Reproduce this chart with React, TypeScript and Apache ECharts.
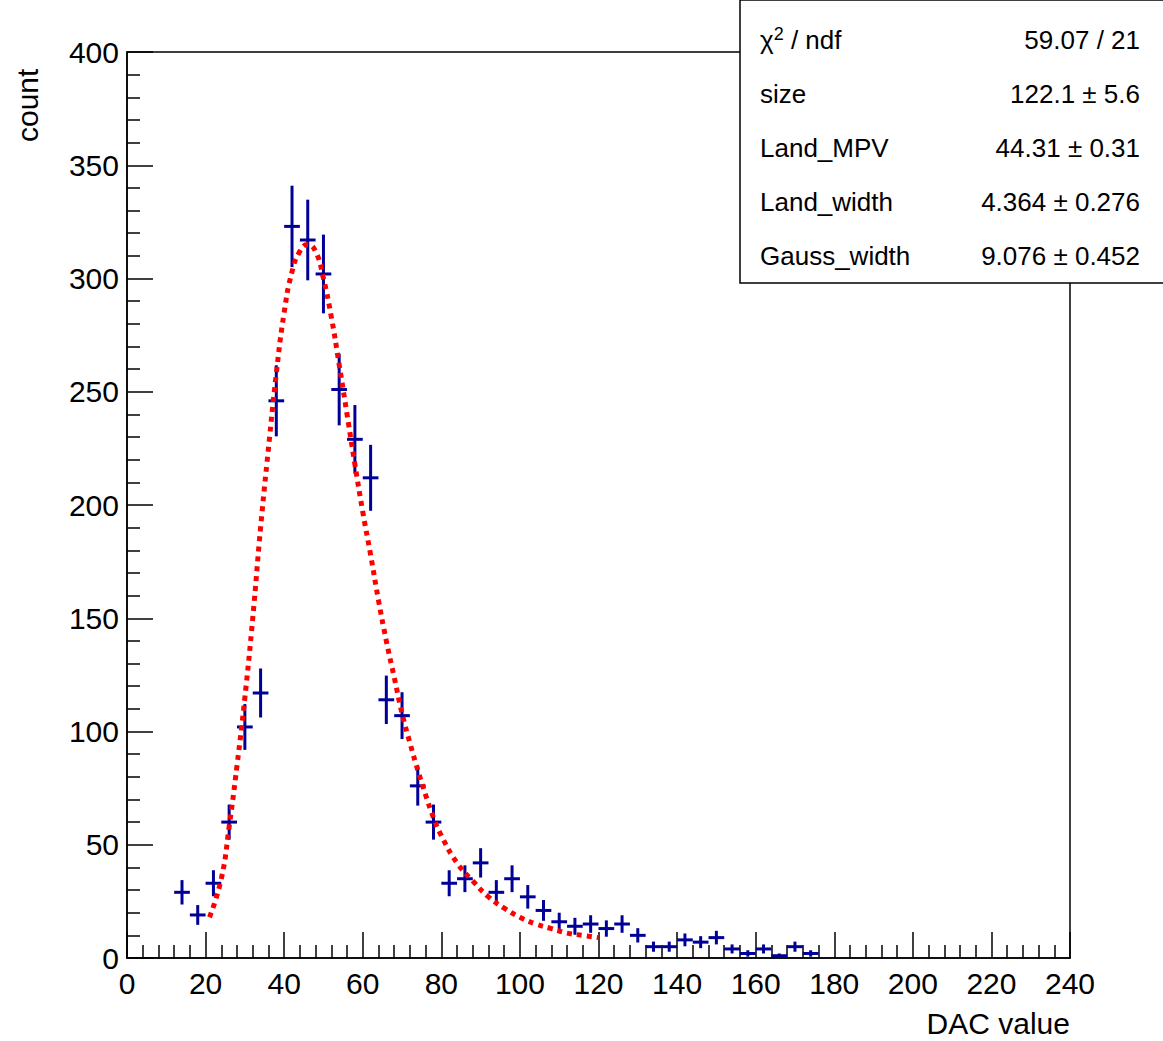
import React, { useEffect, useRef } from "react";
import * as echarts from "echarts";

const binCenters = [14,18,22,26,30,34,38,42,46,50,54,58,62,66,70,74,78,82,86,90,94,98,102,106,110,114,118,122,126,130,134,138,142,146,150,154,158,162,166,170,174];
const counts = [29,19,33,60,102,117,246,323,317,302,251,229,212,114,107,76,60,33,35,42,29,35,27,21,16,14,15,13,15,10,5,5,8,7,9,4,2,4,1,5,2];
const fitX = [21,24,26,28,30,32,34,36,38,40,42,44,46,48,50,52,54,56,58,60,62,64,66,68,70,72,74,76,78,80,84,88,92,96,100,104,108,112,116,120];
const fitY = [18,35,58,85,115,150,190,225,258,285,303,312,315,312,300,283,262,240,218,197,178,158,140,124,108,95,83,72,62,54,42,34,27,22,18,15,13,11,10,9];
const statLabels = ["{a|χ}{s|2}{a| / ndf}", "size", "Land_MPV", "Land_width", "Gauss_width"];
const statValues = ["59.07 / 21", "122.1 ± 5.6", "44.31 ± 0.31", "4.364 ± 0.276", "9.076 ± 0.452"];

const FONT = "Liberation Sans";
const BLUE = "#000099";

export default function App() {
  const ref = useRef<HTMLDivElement>(null);
  useEffect(() => {
    const chart = echarts.init(ref.current!, undefined, { renderer: "svg" });
    const errData = binCenters.map((x, i) => [x, counts[i], Math.sqrt(counts[i])]);
    const statGraphics: any[] = [
      { type: "rect", shape: { x: 740, y: 0, width: 430, height: 283 }, style: { fill: "#fff", stroke: "#000", lineWidth: 1.5 }, z: 100 },
    ];
    statLabels.forEach((l, i) => {
      const y = 40 + i * 54;
      statGraphics.push({ type: "text", x: 760, y, z: 101, style: { text: l, font: `26px ${FONT}`, fill: "#000", verticalAlign: "middle",
        rich: { a: { fontSize: 26, fontFamily: FONT }, s: { fontSize: 18, fontFamily: FONT, verticalAlign: "top", padding: [0, 0, 12, 0] } } } });
      statGraphics.push({ type: "text", x: 1140, y, z: 101, style: { text: statValues[i], font: `26px ${FONT}`, fill: "#000", align: "right", verticalAlign: "middle" } });
    });
    chart.setOption({
      animation: false,
      backgroundColor: "#fff",
      grid: { left: 127, top: 52, right: 93, bottom: 83, show: true, borderColor: "#000", borderWidth: 1.5, backgroundColor: "transparent" },
      xAxis: {
        type: "value", min: 0, max: 240, interval: 20,
        name: "DAC value", nameLocation: "end", nameGap: 0,
        nameTextStyle: { fontFamily: FONT, fontSize: 30, color: "#000", align: "right", verticalAlign: "top", padding: [50, 0, 0, 0] },
        axisLine: { lineStyle: { color: "#000", width: 1.5 } },
        axisTick: { inside: true, length: 26, lineStyle: { color: "#000", width: 1.5 } },
        minorTick: { show: true, splitNumber: 5, length: 13, lineStyle: { color: "#000", width: 1.5 } },
        axisLabel: { fontFamily: FONT, fontSize: 30, color: "#000", margin: 10 },
        splitLine: { show: false },
      },
      yAxis: {
        type: "value", min: 0, max: 400, interval: 50,
        axisLine: { show: true, lineStyle: { color: "#000", width: 1.5 } },
        axisTick: { show: true, inside: true, length: 26, lineStyle: { color: "#000", width: 1.5 } },
        minorTick: { show: true, splitNumber: 5, length: 13, lineStyle: { color: "#000", width: 1.5 } },
        axisLabel: { fontFamily: FONT, fontSize: 30, color: "#000", margin: 8 },
        splitLine: { show: false },
      },
      graphic: [
        { type: "text", x: 12, y: 142, rotation: Math.PI / 2, z: 50, style: { text: "count", font: `30px ${FONT}`, fill: "#000", align: "left", verticalAlign: "top" } },
        ...statGraphics,
      ],
      series: [
        {
          type: "custom",
          data: errData,
          encode: { x: 0, y: 1 },
          renderItem: (params: any, api: any) => {
            const x = api.value(0), y = api.value(1), e = api.value(2);
            const c = api.coord([x, y]);
            const l = api.coord([x - 2, y]);
            const r = api.coord([x + 2, y]);
            const t = api.coord([x, y + e]);
            const b = api.coord([x, y - e]);
            const st = { stroke: BLUE, lineWidth: 3 };
            return { type: "group", children: [
              { type: "line", shape: { x1: l[0], y1: c[1], x2: r[0], y2: c[1] }, style: st },
              { type: "line", shape: { x1: c[0], y1: t[1], x2: c[0], y2: b[1] }, style: st },
            ] };
          },
          z: 3,
        },
        {
          type: "line", data: fitX.map((x, i) => [x, fitY[i]]), smooth: true, showSymbol: false,
          lineStyle: { color: "#ff0000", width: 5, type: [5, 5] }, z: 4,
        },
      ],
    });
    return () => chart.dispose();
  }, []);
  return <div ref={ref} style={{ position: "fixed", left: 0, top: 0, width: 1163, height: 1041 }} />;
}
